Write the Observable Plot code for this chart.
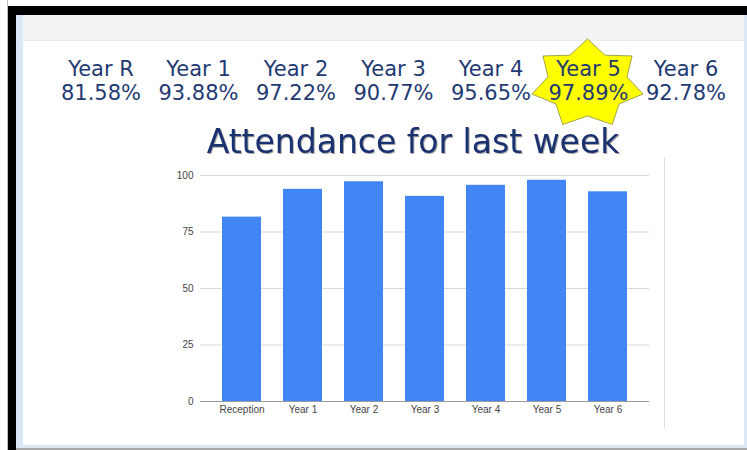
<!DOCTYPE html>
<html>
<head>
<meta charset="utf-8">
<script src="https://cdn.jsdelivr.net/npm/d3@7"></script>
<script src="https://cdn.jsdelivr.net/npm/@observablehq/plot@0.6"></script>
<style>
  html, body { margin: 0; padding: 0; background: #fff; }
  #wrap { position: relative; width: 747px; height: 450px; overflow: hidden; background: #fff; }
  .abs { position: absolute; }
  #plot { position: absolute; left: 0; top: 0; }
  #deco { position: absolute; left: 0; top: 0; }
</style>
</head>
<body>
<div id="wrap">
  <div class="abs" style="left:7px;top:0;width:1px;height:450px;background:#bdbdbd"></div>
  <div class="abs" style="left:8px;top:6px;width:739px;height:9px;background:#000"></div>
  <div class="abs" style="left:8px;top:6px;width:8px;height:444px;background:#000"></div>
  <div class="abs" style="left:16px;top:15px;width:7px;height:433px;background:#dde8f6"></div>
  <div class="abs" style="left:744px;top:15px;width:3px;height:433px;background:#dde8f6"></div>
  <div class="abs" style="left:16px;top:445px;width:731px;height:3px;background:#dde8f6"></div>
  <div class="abs" style="left:16px;top:448px;width:731px;height:2px;background:#a9a9a9"></div>
  <div class="abs" style="left:23px;top:15px;width:721px;height:25px;background:#f3f3f3"></div>
  <div class="abs" style="left:23px;top:40px;width:721px;height:1px;background:#ececec"></div>
  <div class="abs" style="left:664px;top:157px;width:1px;height:271px;background:#dedede"></div>
  <svg id="deco" width="747" height="450"></svg>
  <div id="plot"></div>
</div>
<script>
// Data
const categories = ["Reception", "Year 1", "Year 2", "Year 3", "Year 4", "Year 5", "Year 6"];
const attendance = [81.58, 93.88, 97.22, 90.77, 95.65, 97.89, 92.78];
const headerNames = ["Year R", "Year 1", "Year 2", "Year 3", "Year 4", "Year 5", "Year 6"];
const headerPercents = ["81.58%", "93.88%", "97.22%", "90.77%", "95.65%", "97.89%", "92.78%"];
const yTicks = [0, 25, 50, 75, 100];
const highlighted = "Year 5";
const titleText = "Attendance for last week";

const data = categories.map((c, i) => ({category: c, value: attendance[i]}));

// Decorations: header row, star and title
const deco = d3.select("#deco");
const hx = d3.scalePoint().domain(headerNames).range([101, 686]);
const hi = headerNames.indexOf(highlighted);
{
  const cx = hx(highlighted) - 1, cy = 84, rx = 57, ry = 45, k = 0.71, n = 7;
  const pts = [];
  for (let i = 0; i < n * 2; i++) {
    const a = -Math.PI / 2 + i * Math.PI / n;
    const f = i % 2 === 0 ? 1 : k;
    pts.push([cx + Math.cos(a) * rx * f, cy + Math.sin(a) * ry * f]);
  }
  deco.append("polygon")
    .attr("points", pts.map(p => p.join(",")).join(" "))
    .attr("fill", "#ffff00")
    .attr("stroke", "#8c8c3c")
    .attr("stroke-width", 0.8);
}
const hg = deco.append("g")
  .attr("font-family", "DejaVu Sans, sans-serif")
  .attr("font-size", 21)
  .attr("fill", "#1f3a73")
  .attr("text-anchor", "middle");
headerNames.forEach((name, i) => {
  hg.append("text").attr("x", hx(name)).attr("y", 76).text(name);
  hg.append("text").attr("x", hx(name)).attr("y", 100).text(headerPercents[i]);
});
deco.append("text")
  .attr("x", 413).attr("y", 153)
  .attr("text-anchor", "middle")
  .attr("font-family", "DejaVu Sans, sans-serif")
  .attr("font-size", 33)
  .attr("fill", "#1b3270")
  .style("filter", "drop-shadow(1px 1px 0.6px rgba(0,0,0,0.35))")
  .text(titleText);

// Chart
const chart = Plot.plot({
  width: 747,
  height: 450,
  marginLeft: 200,
  marginRight: 98,
  marginTop: 175,
  marginBottom: 49,
  style: {background: "transparent", fontFamily: "Liberation Sans, Arial, sans-serif", fontSize: "10px", color: "#444"},
  x: {domain: categories, padding: 0.36, label: null},
  y: {domain: [0, 100], label: null},
  marks: [
    Plot.gridY({ticks: yTicks.slice(1), stroke: "#d9d9d9", strokeOpacity: 1}),
    Plot.barY(data, {x: "category", y: "value", fill: "#4285f4"}),
    Plot.ruleY([0], {stroke: "#9a9a9a", strokeWidth: 1.2}),
    Plot.axisY({ticks: yTicks, tickSize: 0, tickPadding: 7, label: null, fill: "#444"}),
    Plot.axisX({tickSize: 0, tickPadding: 4, label: null, fill: "#444"})
  ]
});
document.getElementById("plot").appendChild(chart);
</script>
</body>
</html>
